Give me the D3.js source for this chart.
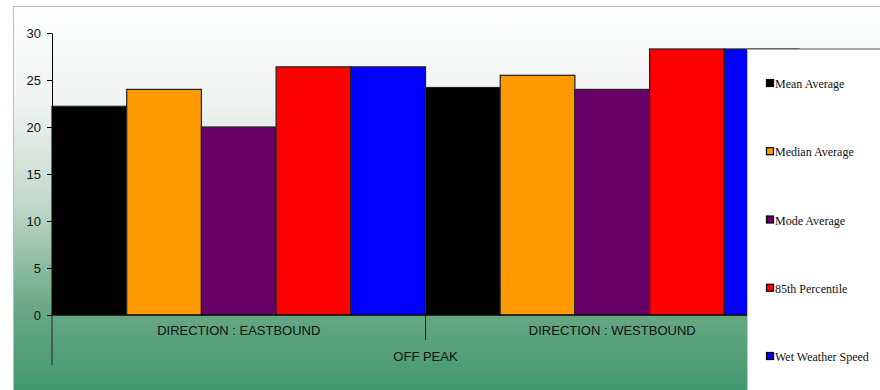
<!DOCTYPE html>
<html>
<head>
<meta charset="utf-8">
<script src="https://d3js.org/d3.v7.min.js"></script>
<style>
body { margin: 0; background: #fff; }
svg { display: block; }
.axis text { font-family: "Liberation Sans", Arial, sans-serif; font-size: 13px; fill: #111; }
.axis path, .axis line { stroke: #000; }
.cat { font-family: "Liberation Sans", Arial, sans-serif; font-size: 13px; fill: #111; }
.legend text { font-family: "Liberation Serif", "Times New Roman", serif; font-size: 12px; fill: #111; }
</style>
</head>
<body>
<svg width="880" height="390"></svg>
<script>
// data
var groups = ["DIRECTION : EASTBOUND", "DIRECTION : WESTBOUND"]
var outer = "OFF PEAK"
var series = ["Mean Average", "Median Average", "Mode Average", "85th Percentile", "Wet Weather Speed"]
var colors = ["#000000", "#ff9900", "#660066", "#ff0000", "#0000ff"]
var eastVals = [22.2, 24.0, 20.0, 26.4, 26.4]
var westVals = [24.2, 25.5, 24.0, 28.3, 28.3]
var yTicks = [0, 5, 10, 15, 20, 25, 30]

var values = [eastVals, westVals]

var svg = d3.select("svg")

// background box with gradient
var defs = svg.append("defs")
var grad = defs.append("linearGradient").attr("id", "bg")
  .attr("x1", 0).attr("y1", 0).attr("x2", 0).attr("y2", 1)
grad.append("stop").attr("offset", "0%").attr("stop-color", "#ffffff")
grad.append("stop").attr("offset", "25%").attr("stop-color", "#eef2f0")
grad.append("stop").attr("offset", "50%").attr("stop-color", "#c0d8ca")
grad.append("stop").attr("offset", "75%").attr("stop-color", "#6aa884")
grad.append("stop").attr("offset", "100%").attr("stop-color", "#3a976a")

svg.append("rect")
  .attr("x", 13.5).attr("y", 6.5)
  .attr("width", 880).attr("height", 400)
  .attr("fill", "url(#bg)")
  .attr("stroke", "#bbbbbb")

var plotL = 52, plotR = 799, plotT = 33, plotB = 315

var x0 = d3.scaleBand().domain(groups).range([plotL, plotR])
var x1 = d3.scaleBand().domain(series).range([0, x0.bandwidth()])
var y = d3.scaleLinear().domain([0, 30]).range([plotB, plotT])

var rows = []
groups.forEach(function(g, gi){
  series.forEach(function(s, si){
    rows.push({g: g, s: s, v: values[gi][si], c: colors[si]})
  })
})

svg.append("g").selectAll("rect")
  .data(rows)
  .enter().append("rect")
  .attr("x", function(d){ return x0(d.g) + x1(d.s) })
  .attr("y", function(d){ return y(d.v) })
  .attr("width", x1.bandwidth())
  .attr("height", function(d){ return y(0) - y(d.v) })
  .attr("fill", function(d){ return d.c })
  .attr("stroke", "#222")
  .attr("stroke-width", 1.2)

// y axis
svg.append("g")
  .attr("class", "axis")
  .attr("transform", "translate(" + plotL + ",0)")
  .call(d3.axisLeft(y).tickValues(yTicks).tickSize(5).tickSizeOuter(0).tickPadding(6))

// category axis
svg.append("line")
  .attr("x1", plotL).attr("x2", plotR).attr("y1", plotB).attr("y2", plotB)
  .attr("stroke", "#000")
svg.append("line")
  .attr("x1", plotL).attr("x2", plotL).attr("y1", plotB).attr("y2", plotB + 50)
  .attr("stroke", "#222")
svg.append("line")
  .attr("x1", x0(groups[1])).attr("x2", x0(groups[1])).attr("y1", plotB).attr("y2", plotB + 25)
  .attr("stroke", "#222")

svg.append("g").selectAll("text")
  .data(groups)
  .enter().append("text")
  .attr("class", "cat")
  .attr("x", function(d){ return x0(d) + x0.bandwidth() / 2 })
  .attr("y", plotB + 20)
  .attr("text-anchor", "middle")
  .text(function(d){ return d })

svg.append("text")
  .attr("class", "cat")
  .attr("x", x0(groups[1]))
  .attr("y", plotB + 46)
  .attr("text-anchor", "middle")
  .text(outer)

// legend box over the chart
var legend = svg.append("g").attr("class", "legend")
legend.append("rect")
  .attr("x", 747).attr("y", 49)
  .attr("width", 140).attr("height", 350)
  .style("fill", "#ffffff")
legend.append("line")
  .attr("x1", 747).attr("x2", 880).attr("y1", 49).attr("y2", 49)
  .attr("stroke", "#555").attr("stroke-width", 1.2)
legend.append("line")
  .attr("x1", 747.5).attr("x2", 747.5).attr("y1", 49).attr("y2", 390)
  .attr("stroke", "#c8c8d8")

var ly = d3.scalePoint().domain(series).range([84, 357])
var item = legend.selectAll(".item")
  .data(series)
  .enter().append("g")
  .attr("class", "item")
  .attr("transform", function(d){ return "translate(766," + ly(d) + ")" })
item.append("rect")
  .attr("x", 0.5).attr("y", -4.5)
  .attr("width", 7).attr("height", 7)
  .attr("fill", function(d, i){ return colors[i] })
  .attr("stroke", "#000").attr("stroke-width", 1.2)
item.append("text")
  .attr("x", 9).attr("y", 4)
  .text(function(d){ return d })
</script>
</body>
</html>
